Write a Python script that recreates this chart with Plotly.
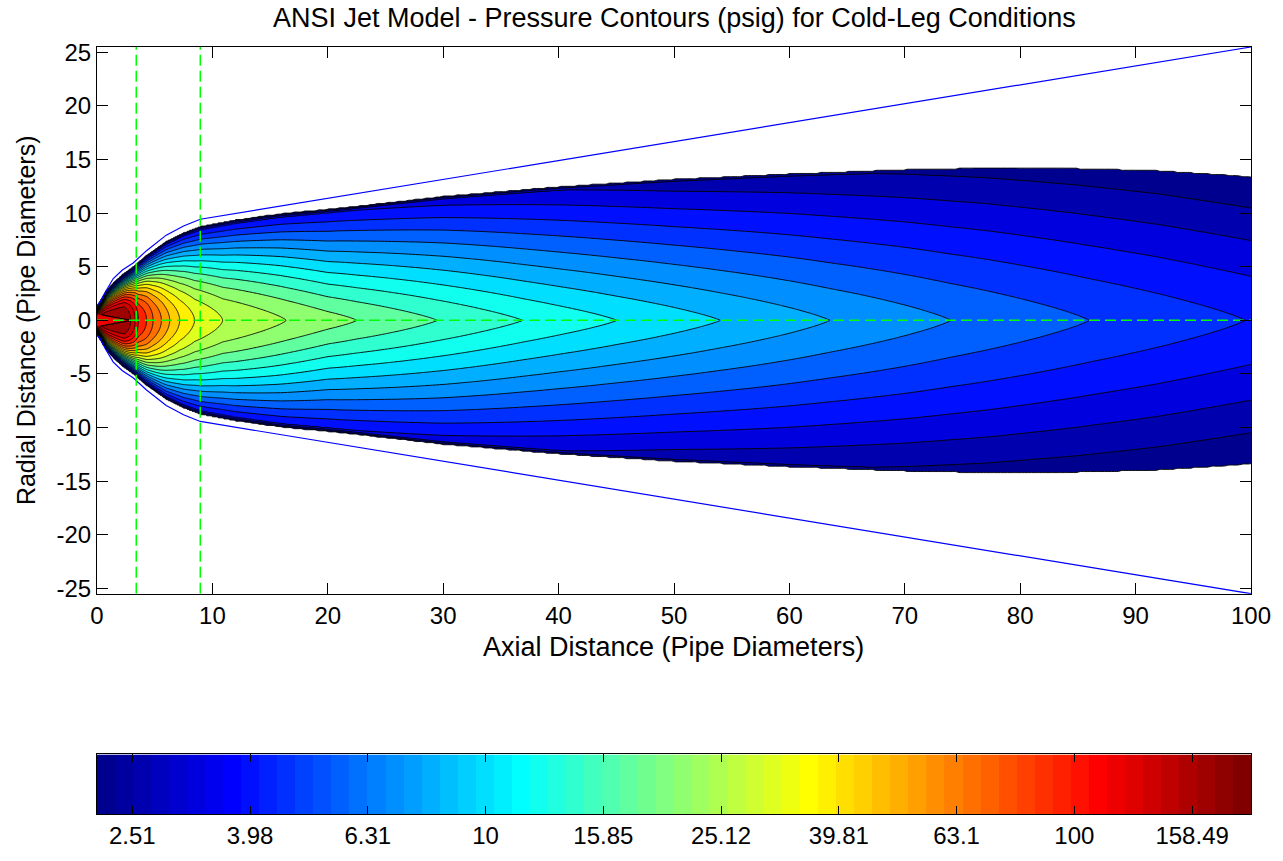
import numpy as np
import plotly.graph_objects as go

# ---------------- pressure scale (log10 of psig) ----------------
LOG_MIN = 0.34      # lowest contour level = colour-axis minimum
LOG_MAX = 2.30      # colour-axis maximum
N_STEPS = 24        # number of contour intervals between LOG_MIN and LOG_MAX

cbar_tick_vals = [0.4, 0.6, 0.8, 1.0, 1.2, 1.4, 1.6, 1.8, 2.0, 2.2]
cbar_tick_labels = ["2.51", "3.98", "6.31", "10", "15.85", "25.12",
                    "39.81", "63.1", "100", "158.49"]

# ---------------- jet data ----------------
# centreline pressure along the jet axis (axial distance in pipe diameters, psig)
centre_x = [0.0, 2.4, 2.9, 3.3, 3.57, 4.29, 4.86, 5.58, 6.3, 7.17, 8.46,
            10.9, 16.4, 22.5, 29.5, 37.0, 45.0, 54.0, 63.5, 74.0, 86.0, 99.5, 100.0]
centre_psig = [196.0, 196.0, 165.3, 137.0, 113.5, 94.0, 77.9, 64.6, 53.5, 44.3, 36.7,
               30.4, 25.2, 20.9, 17.3, 14.3, 11.9, 9.85, 8.16, 6.76, 5.60, 4.64, 4.61]

# half-width of the pressurised region (pipe diameters)
edge_x = [0.0, 0.3, 0.8, 1.4, 2.2, 3.1, 4.3, 6.0, 7.5, 9.0,
          12.0, 16.0, 21.0, 30.0, 40.0, 50.0, 60.0, 70.0, 77.0, 85.0, 92.0, 100.0]
edge_r = [1.35, 1.9, 2.8, 3.5, 4.3, 5.0, 6.1, 7.4, 8.2, 8.8,
          9.4, 10.0, 10.5, 11.6, 12.5, 13.2, 13.7, 14.1, 14.25, 14.2, 14.0, 13.45]

# pressure just inside the edge of the pressurised region (psig)
edge_p_x = [0.0, 9.0, 21.0, 50.0, 100.0]
edge_p_psig = [4.6, 3.85, 3.85, 2.9, 2.19]

# radial profile exponent along the jet
shape_x = [0.0, 2.0, 3.4, 6.0, 9.0, 20.0, 40.0, 100.0]
shape_p = [2.8, 2.7, 2.4, 1.9, 1.7, 1.25, 1.15, 1.2]

# width of the steep pressure fall-off at the jet edge
falloff_x = [0.0, 50.0, 100.0]
falloff_w = [0.35, 0.35, 0.1]

# zone-1 core
core_len = 3.0
core_r0 = 0.6
core_psig = 124.7

# ANSI jet expansion boundary
boundary_x = [0.0, 0.1, 0.26, 0.7, 1.41, 2.2, 3.13, 4.29, 6.0, 7.5, 8.95, 100.0]
boundary_r = [1.4, 1.5, 1.7, 2.6, 3.9, 4.7, 5.35, 6.5, 7.95, 8.8, 9.43, 25.5]

# zone boundaries (core end, end of zone 2)
zone_x = [3.4, 8.95]

X_RANGE = [0, 100]
Y_RANGE = [-25.5, 25.5]

# ---------------- pressure field ----------------
xs = np.unique(np.round(np.concatenate([np.arange(0, 12, 0.05),
                                        np.arange(12, 100.001, 0.3),
                                        [100.0]]), 4))
ys = np.unique(np.round(np.concatenate([np.arange(-15, 15.001, 0.1),
                                        np.arange(-6, 6.001, 0.05)]), 4))
X, Y = np.meshgrid(xs, ys)
absr = np.abs(Y)

dlev = (LOG_MAX - LOG_MIN) / N_STEPS
lc = np.interp(xs, centre_x, np.log10(centre_psig))[None, :]
le = np.interp(xs, edge_p_x, np.log10(edge_p_psig))[None, :]
rr = np.interp(xs, edge_x, edge_r)[None, :]
pp = np.interp(xs, shape_x, shape_p)[None, :]
ww = np.interp(xs, falloff_x, falloff_w)[None, :]
rin = rr - ww

s = np.clip(absr / rin, 0, 1)
logp = lc - (lc - le) * s ** pp
fall = le - (le - (LOG_MIN - 0.002)) * (absr - rin) / ww
logp = np.where((absr > rin) & (absr <= rr), fall, logp)
logp = np.where(absr > rr, LOG_MIN - 0.6, logp)
core = (X < core_len) & (absr < core_r0 * (1 - X / core_len))
logp = np.where(core, np.log10(core_psig), logp)
logp = np.round(logp, 4)


# ---------------- colours (64-step jet) ----------------
def jet64(k):
    if k < 25:
        r = 0.0
    elif k <= 40:
        r = (k - 24) / 16
    elif k <= 55:
        r = 1.0
    else:
        r = (72 - k) / 16
    if k < 9:
        g = 0.0
    elif k <= 24:
        g = (k - 8) / 16
    elif k <= 39:
        g = 1.0
    elif k <= 55:
        g = (56 - k) / 16
    else:
        g = 0.0
    if k <= 8:
        b = (k + 8) / 16
    elif k <= 23:
        b = 1.0
    elif k <= 39:
        b = (40 - k) / 16
    else:
        b = 0.0
    return "rgb(%d,%d,%d)" % (round(r * 255), round(g * 255), round(b * 255))


n_lev = N_STEPS  # levels LOG_MIN .. LOG_MIN + (N_STEPS-1)*dlev
band_scale = [[0.0, "rgb(255,255,255)"]]
for j in range(1, n_lev + 1):
    idx = min(int(np.floor((j - 1) * 64 / N_STEPS)) + 1, 64)
    band_scale.append([j / n_lev, jet64(idx)])

cbar_x = [LOG_MIN + (i + 0.5) * (LOG_MAX - LOG_MIN) / 64 for i in range(64)]
cbar_scale = [[i / 63, jet64(i + 1)] for i in range(64)]

FONT = "Liberation Sans, Arial, Helvetica, sans-serif"

fig = go.Figure()

fig.add_trace(go.Contour(
    x=xs, y=ys, z=logp,
    autocontour=False,
    contours=dict(start=LOG_MIN, end=LOG_MIN + (N_STEPS - 1) * dlev, size=dlev,
                  coloring="fill", showlines=True),
    colorscale=band_scale,
    line=dict(color="black", width=0.9),
    showscale=False, hoverinfo="skip",
    xaxis="x", yaxis="y",
))

# jet expansion boundary
bx = list(boundary_x)
fig.add_trace(go.Scatter(x=bx, y=list(boundary_r), mode="lines",
                         line=dict(color="rgb(0,0,255)", width=1.2),
                         hoverinfo="skip", showlegend=False))
fig.add_trace(go.Scatter(x=bx, y=[-v for v in boundary_r], mode="lines",
                         line=dict(color="rgb(0,0,255)", width=1.2),
                         hoverinfo="skip", showlegend=False))

# zone boundaries and jet axis
green = dict(color="rgb(0,255,0)", width=1.5, dash="11px,5px")
for zx in zone_x:
    fig.add_trace(go.Scatter(x=[zx, zx], y=Y_RANGE, mode="lines", line=green,
                             hoverinfo="skip", showlegend=False))
fig.add_trace(go.Scatter(x=X_RANGE, y=[0, 0], mode="lines", line=green,
                         hoverinfo="skip", showlegend=False))

# colour bar
fig.add_trace(go.Heatmap(
    x=cbar_x, y=[0], z=[list(range(64))], zmin=0, zmax=63,
    colorscale=cbar_scale, showscale=False, hoverinfo="skip",
    xaxis="x2", yaxis="y2",
))

W, H = 1283, 861
ML, MR, MT, MB = 97, 28, 47, 41
PW, PH = W - ML - MR, H - MT - MB


def px_x(px):
    return (px - ML) / PW


def px_y(py):
    return (H - MB - py) / PH


axis_common = dict(showline=True, linecolor="black", linewidth=1, mirror="ticks",
                   ticks="inside", ticklen=11, tickcolor="black", showgrid=False,
                   zeroline=False, tickfont=dict(family=FONT, size=24, color="black"))

fig.update_layout(
    width=W, height=H,
    margin=dict(l=ML, r=MR, t=MT, b=MB),
    paper_bgcolor="white", plot_bgcolor="white",
    showlegend=False,
    xaxis=dict(range=X_RANGE, tickvals=list(range(0, 101, 10)),
               domain=[0, 1], anchor="y", **axis_common),
    yaxis=dict(range=Y_RANGE, tickvals=list(range(-25, 26, 5)),
               ticktext=[str(v) for v in range(-25, 26, 5)],
               domain=[px_y(598), 1], anchor="x", **axis_common),
    xaxis2=dict(range=[LOG_MIN, LOG_MAX], tickvals=cbar_tick_vals, ticktext=cbar_tick_labels,
                domain=[0, 1], anchor="y2",
                **{**axis_common, "ticklen": 8}),
    yaxis2=dict(range=[-0.5, 0.5], domain=[0, px_y(760)], anchor="x2",
                showline=True, linecolor="black", linewidth=1, mirror=True,
                showticklabels=False, ticks="", showgrid=False, zeroline=False),
    annotations=[
        dict(text="ANSI Jet Model - Pressure Contours (psig) for Cold-Leg Conditions",
             x=0.5, y=px_y(18), xref="paper", yref="paper", showarrow=False,
             xanchor="center", yanchor="middle",
             font=dict(family=FONT, size=27, color="black")),
        dict(text="Axial Distance (Pipe Diameters)",
             x=px_x(675), y=px_y(652), xref="paper", yref="paper", showarrow=False,
             xanchor="center", yanchor="middle",
             font=dict(family=FONT, size=27, color="black")),
        dict(text="Radial Distance (Pipe Diameters)", textangle=-90,
             x=px_x(26), y=px_y(322), xref="paper", yref="paper", showarrow=False,
             xanchor="center", yanchor="middle",
             font=dict(family=FONT, size=25, color="black")),
    ],
)

fig.write_html("out.html")
